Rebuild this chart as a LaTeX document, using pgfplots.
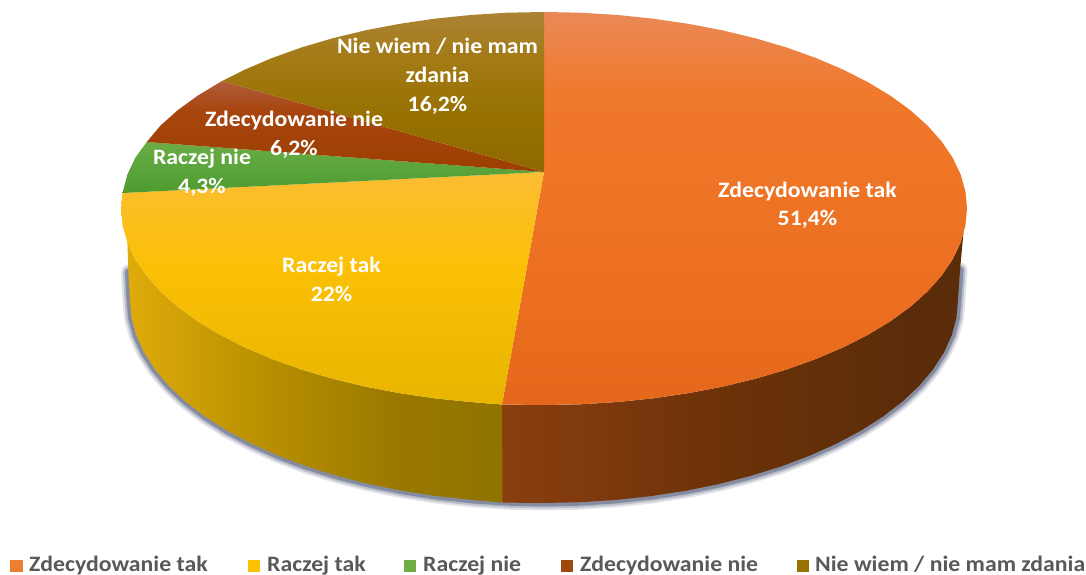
\documentclass[border=0pt]{standalone}
\usepackage{pgfplots}
\pgfplotsset{compat=1.18}
\usepackage{fontspec}
\setmainfont[FakeStretch=1.08]{Carlito}
\definecolor{cOr}{RGB}{237,125,49}
\definecolor{cYe}{RGB}{255,192,0}
\definecolor{cGr}{RGB}{112,173,71}
\definecolor{cRe}{RGB}{158,72,14}
\definecolor{cOl}{RGB}{153,115,0}
\definecolor{halo}{RGB}{50,60,95}
% top face gradients (light towards the back of the pie)
\pgfdeclareverticalshading{topOr}{100bp}{rgb(0bp)=(.894,.404,.106); rgb(25bp)=(.894,.404,.106); rgb(38bp)=(.925,.431,.125); rgb(64bp)=(.941,.471,.165); rgb(75bp)=(.918,.537,.337); rgb(100bp)=(.918,.537,.337)}
\pgfdeclareverticalshading{topYe}{100bp}{rgb(0bp)=(.910,.710,0); rgb(25bp)=(.910,.710,0); rgb(54bp)=(.984,.753,.02); rgb(75bp)=(.984,.741,.2); rgb(100bp)=(.984,.741,.2)}
\pgfdeclareverticalshading{topGr}{100bp}{rgb(0bp)=(.31,.608,.184); rgb(25bp)=(.31,.608,.184); rgb(50bp)=(.357,.647,.235); rgb(75bp)=(.42,.671,.27); rgb(100bp)=(.42,.671,.27)}
\pgfdeclareverticalshading{topRe}{100bp}{rgb(0bp)=(.612,.247,0); rgb(25bp)=(.612,.247,0); rgb(59bp)=(.659,.271,.059); rgb(75bp)=(.69,.361,.235); rgb(100bp)=(.69,.361,.235)}
\pgfdeclareverticalshading{topOl}{100bp}{rgb(0bp)=(.561,.408,0); rgb(25bp)=(.561,.408,0); rgb(41bp)=(.588,.439,0); rgb(60bp)=(.639,.478,.078); rgb(75bp)=(.675,.514,.204); rgb(100bp)=(.675,.514,.204)}
% side walls
\pgfdeclarehorizontalshading{sideOr}{100bp}{rgb(0bp)=(.541,.243,.063); rgb(25bp)=(.541,.243,.063); rgb(50bp)=(.42,.196,.031); rgb(70bp)=(.353,.173,.039); rgb(100bp)=(.353,.173,.039)}
\pgfdeclarehorizontalshading{sideYe}{100bp}{rgb(0bp)=(.878,.671,.047); rgb(25bp)=(.878,.671,.047); rgb(43bp)=(.722,.565,0); rgb(61bp)=(.604,.471,0); rgb(75bp)=(.561,.455,0); rgb(100bp)=(.561,.455,0)}
% outer lower rim of the pie, in picture pixels
\pgfplotstableread{
x y
960 270
958 300
956.4 317.7
951.7 335.3
943.9 352.5
933 369.4
919.2 385.8
902.5 401.5
883.1 416.4
861.1 430.5
836.7 443.5
810.1 455.5
781.5 466.3
751 475.8
719 484
685.6 490.8
651.1 496.1
615.9 499.9
580.1 502.2
544 503
507.9 502.2
472.1 499.9
436.9 496.1
402.4 490.8
369 484
337 475.8
306.5 466.3
277.9 455.5
251.3 443.5
226.9 430.5
204.9 416.4
185.5 401.5
168.8 385.8
155 369.4
144.1 352.5
136.3 335.3
131.6 317.7
130 300
128.5 272
}\rim
\tikzset{
  lab/.style={font=\bfseries\fontsize{22}{26}\selectfont, text=white, inner sep=0pt, anchor=base},
  leg/.style={font=\bfseries\fontsize{22}{26}\selectfont, text=black!65, inner sep=0pt, anchor=base west},
}
\begin{document}
\begin{tikzpicture}
\useasboundingbox (0,0) rectangle (1086pt,575pt);
\begin{axis}[
  at={(0,0)}, anchor=south west,
  scale only axis, width=1086pt, height=575pt,
  xmin=0, xmax=1086, ymin=0, ymax=575, y dir=reverse,
  hide axis, no markers, clip=false,
]
% soft shadow under the rim
\addplot[halo, line width=15pt, opacity=.14, line cap=round] table {\rim};
\addplot[halo, line width=11pt, opacity=.22, line cap=round] table {\rim};
\addplot[halo, line width=7pt, opacity=.40, line cap=round] table {\rim};
% side walls
\addplot[draw=none, shade, shading=sideOr] coordinates {
(502,404.5)(544,405)(580.9,404.3)(617.5,402)(653.5,398.3)(688.7,393.1)(722.8,386.6)(755.5,378.7)(786.6,369.5)(815.9,359)(843.1,347.4)(868,334.8)(890.5,321.2)(910.3,306.8)(927.4,291.5)(941.5,275.7)(952.6,259.4)(960.6,242.6)(963.5,232)
(960,270)(958,300)(956.4,317.7)(951.7,335.3)(943.9,352.5)(933,369.4)(919.2,385.8)(902.5,401.5)(883.1,416.4)(861.1,430.5)(836.7,443.5)(810.1,455.5)(781.5,466.3)(751,475.8)(719,484)(685.6,490.8)(651.1,496.1)(615.9,499.9)(580.1,502.2)(544,503)(502.5,502.6)
} -- cycle;
\addplot[draw=none, shade, shading=sideYe] coordinates {
(127.4,242.6)(135.4,259.4)(146.5,275.7)(160.6,291.5)(177.7,306.8)(197.5,321.2)(220,334.8)(244.9,347.4)(272.1,359)(301.4,369.5)(332.5,378.7)(365.2,386.6)(399.3,393.1)(434.5,398.3)(470.5,402)(502,404.5)
(502.5,502.6)(472.1,499.9)(436.9,496.1)(402.4,490.8)(369,484)(337,475.8)(306.5,466.3)(277.9,455.5)(251.3,443.5)(226.9,430.5)(204.9,416.4)(185.5,401.5)(168.8,385.8)(155,369.4)(144.1,352.5)(136.3,335.3)(131.6,317.7)(130,300)(128.5,275)
} -- cycle;
% top face, one wedge per answer
\addplot[draw=none, shade, shading=topOr] coordinates {
(544,172)(544,12)(580.9,12.7)(617.5,15)(653.5,18.7)(688.7,23.9)(722.8,30.4)(755.5,38.3)(786.6,47.5)(815.9,58)(843.1,69.6)(868,82.2)(890.5,95.8)(910.3,110.2)(927.4,125.5)(941.5,141.3)(952.6,157.6)(960.6,174.4)(965.4,191.4)(967,208.5)(965.4,225.6)(960.6,242.6)(952.6,259.4)(941.5,275.7)(927.4,291.5)(910.3,306.8)(890.5,321.2)(868,334.8)(843.1,347.4)(815.9,359)(786.6,369.5)(755.5,378.7)(722.8,386.6)(688.7,393.1)(653.5,398.3)(617.5,402)(580.9,404.3)(544,405)(502,404.5)
} -- cycle;
\addplot[draw=none, shade, shading=topYe] coordinates {
(544,172)(502,404.5)(470.5,402)(434.5,398.3)(399.3,393.1)(365.2,386.6)(332.5,378.7)(301.4,369.5)(272.1,359)(244.9,347.4)(220,334.8)(197.5,321.2)(177.7,306.8)(160.6,291.5)(146.5,275.7)(135.4,259.4)(127.4,242.6)(122.6,225.6)(121,208.5)(122.5,193)
} -- cycle;
\addplot[draw=none, shade, shading=topGr] coordinates {
(544,172)(122.5,193)(127.4,174.4)(135.4,157.6)(146.7,142)
} -- cycle;
\addplot[draw=none, shade, shading=topRe] coordinates {
(544,172)(146.7,142)(160.6,125.5)(177.7,110.2)(197.5,95.8)(222,81)
} -- cycle;
\addplot[draw=none, shade, shading=topOl] coordinates {
(544,172)(222,81)(244.9,69.6)(272.1,58)(301.4,47.5)(332.5,38.3)(365.2,30.4)(399.3,23.9)(434.5,18.7)(470.5,15)(507.1,12.7)(544,12)
} -- cycle;
% legend swatches
\addplot[draw=none, fill=cOr] coordinates {(10,560)(23,560)(23,572)(10,572)} -- cycle;
\addplot[draw=none, fill=cYe] coordinates {(248,560)(260,560)(260,572)(248,572)} -- cycle;
\addplot[draw=none, fill=cGr] coordinates {(404,560)(416,560)(416,572)(404,572)} -- cycle;
\addplot[draw=none, fill=cRe] coordinates {(561,560)(573,560)(573,572)(561,572)} -- cycle;
\addplot[draw=none, fill=cOl] coordinates {(797,560)(809,560)(809,572)(797,572)} -- cycle;
% slice labels
\node[lab] at (axis cs:807.5,197) {Zdecydowanie tak};
\node[lab] at (axis cs:807.5,225) {51,4\%};
\node[lab] at (axis cs:331.5,272) {Raczej tak};
\node[lab] at (axis cs:331.5,301) {22\%};
\node[lab] at (axis cs:202,164) {Raczej nie};
\node[lab] at (axis cs:202,193) {4,3\%};
\node[lab] at (axis cs:294,127) {Zdecydowanie nie};
\node[lab] at (axis cs:294,155) {6,2\%};
\node[lab] at (axis cs:437.5,53.5) {Nie wiem / nie mam};
\node[lab] at (axis cs:437.5,83) {zdania};
\node[lab] at (axis cs:437.5,112) {16,2\%};
% legend texts
\node[leg] at (axis cs:29,571) {Zdecydowanie tak};
\node[leg] at (axis cs:267,571) {Raczej tak};
\node[leg] at (axis cs:423,571) {Raczej nie};
\node[leg] at (axis cs:580,571) {Zdecydowanie nie};
\node[leg] at (axis cs:815,571) {Nie wiem / nie mam zdania};
\end{axis}
\end{tikzpicture}
\end{document}
